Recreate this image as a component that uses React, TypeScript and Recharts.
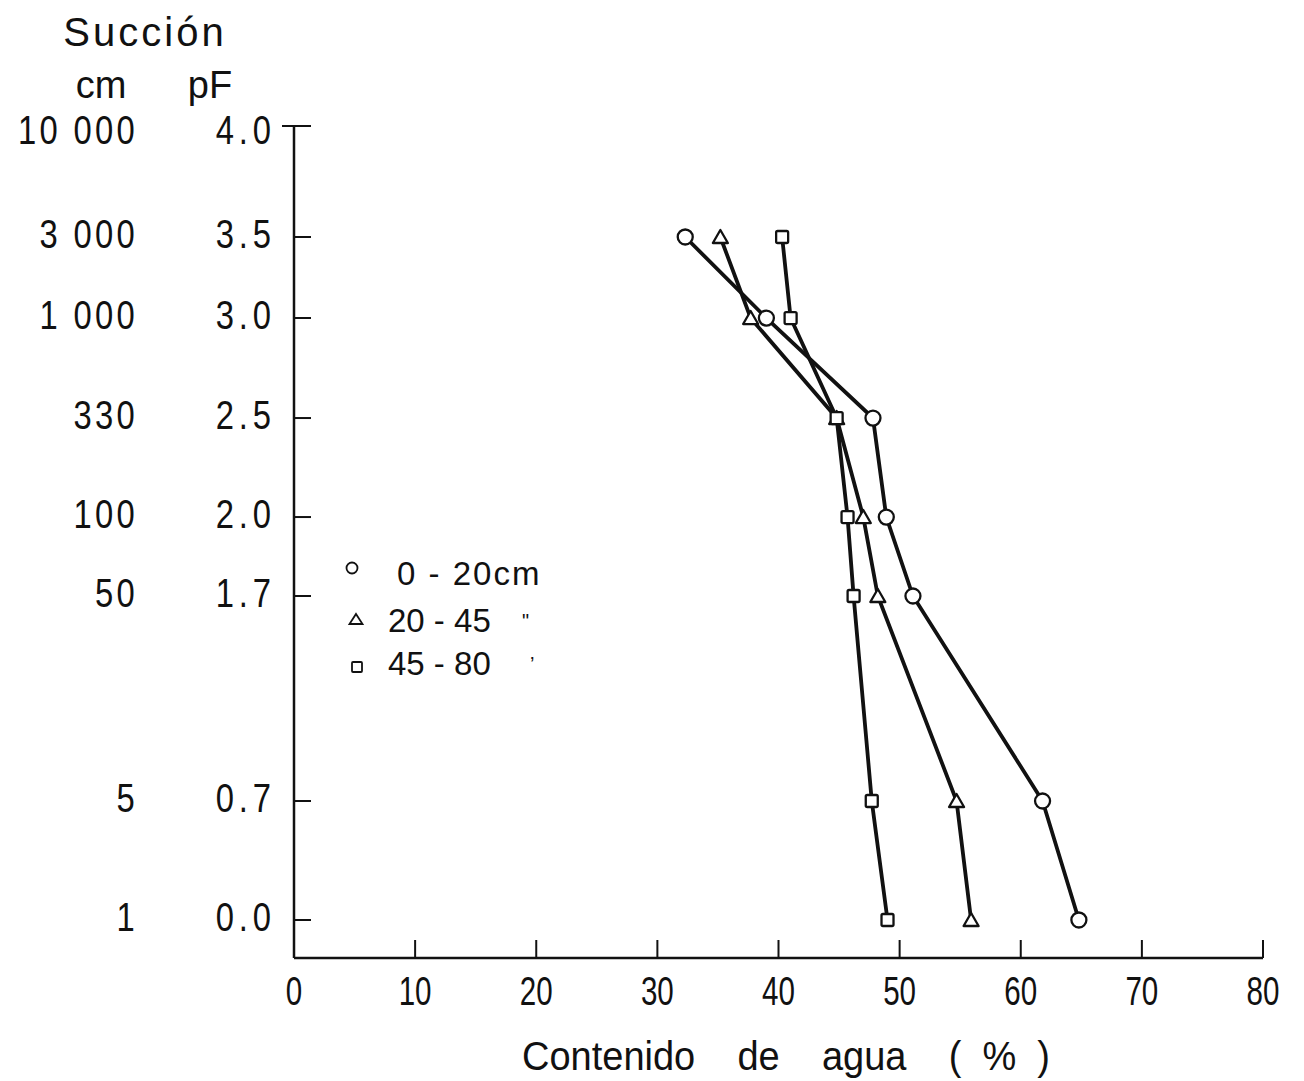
import React from 'react';
import { ScatterChart, Scatter, XAxis, YAxis, Legend } from 'recharts';

// ---------- data ----------
const seriesNames = ['0 - 20cm', '20 - 45', '45 - 80'];
const seriesDitto = ['', '"', '\u2019'];
const pFValues = [3.5, 3.0, 2.5, 2.0, 1.7, 0.7, 0.0];
const water0to20 = [32.3, 39.0, 47.8, 48.9, 51.1, 61.8, 64.8];
const water20to45 = [35.2, 37.7, 44.8, 47.0, 48.2, 54.7, 55.9];
const water45to80 = [40.3, 41.0, 44.8, 45.7, 46.2, 47.7, 49.0];

const pFTicks = [0.0, 0.7, 1.7, 2.0, 2.5, 3.0, 3.5, 4.0];
const pFTickLabels = ['0.0', '0.7', '1.7', '2.0', '2.5', '3.0', '3.5', '4.0'];
const cmTickLabels = ['1', '5', '50', '100', '330', '1 000', '3 000', '10 000'];
const xTicks = [0, 10, 20, 30, 40, 50, 60, 70, 80];

// the printed suction axis is not linear in pF: knots of pF -> fraction of axis length
const yScaleKnots = [-0.225, 0.0, 0.7, 1.7, 2.0, 2.5, 3.0, 3.5, 4.0];
const yScaleFractions = [0, 0.0457, 0.1887, 0.4351, 0.53, 0.649, 0.7692, 0.8666, 1];

const FONT = "'Liberation Sans', Arial, sans-serif";
const INK = '#111';

function piecewiseScale(knots: number[], fracs: number[]): any {
  let dom: any[] = [knots[0], knots[knots.length - 1]];
  let rng: number[] = [0, 1];
  const frac = (v: number) => {
    const n = knots.length;
    let i = 0;
    if (v >= knots[n - 1]) i = n - 2;
    else {
      while (i < n - 2 && v > knots[i + 1]) i++;
    }
    const t = (v - knots[i]) / (knots[i + 1] - knots[i]);
    return fracs[i] + t * (fracs[i + 1] - fracs[i]);
  };
  const s: any = (v: any) => rng[0] + frac(+v) * (rng[1] - rng[0]);
  s.domain = (d?: any[]) => {
    if (d === undefined) return dom.slice();
    dom = [...d];
    return s;
  };
  s.range = (r?: number[]) => {
    if (r === undefined) return rng.slice();
    rng = [...r];
    return s;
  };
  s.copy = () => piecewiseScale(knots, fracs).domain(dom).range(rng);
  s.invert = (p: number) => {
    const f = (p - rng[0]) / (rng[1] - rng[0]);
    let i = 0;
    while (i < fracs.length - 2 && f > fracs[i + 1]) i++;
    const t = (f - fracs[i]) / (fracs[i + 1] - fracs[i]);
    return knots[i] + t * (knots[i + 1] - knots[i]);
  };
  s.ticks = () => knots.slice(1);
  s.tickFormat = () => (v: any) => String(v);
  s.clamp = () => s;
  s.nice = () => s;
  return s;
}

const yScale = piecewiseScale(yScaleKnots, yScaleFractions);

const toPoints = (water: number[]) => pFValues.map((p, i) => ({ x: water[i], y: p }));
const data0to20 = toPoints(water0to20);
const data20to45 = toPoints(water20to45);
const data45to80 = toPoints(water45to80);

// ---------- markers ----------
const Circle = (props: any) => {
  const { cx, cy } = props;
  if (cx == null || cy == null) return null;
  return <circle cx={cx} cy={cy} r={7.5} fill="#fff" stroke={INK} strokeWidth={2.3} />;
};
const Triangle = (props: any) => {
  const { cx, cy } = props;
  if (cx == null || cy == null) return null;
  const w = 7.5, h = 7;
  return (
    <polygon
      points={`${cx},${cy - h} ${cx + w},${cy + h - 1} ${cx - w},${cy + h - 1}`}
      fill="#fff"
      stroke={INK}
      strokeWidth={2.3}
      strokeLinejoin="round"
    />
  );
};
const Square = (props: any) => {
  const { cx, cy } = props;
  if (cx == null || cy == null) return null;
  return <rect x={cx - 6} y={cy - 6} width={12} height={12} rx={1.5} fill="#fff" stroke={INK} strokeWidth={2.3} />;
};

// ---------- axis ticks ----------
const XTick = (props: any) => {
  const { x, y, payload } = props;
  return (
    <g>
      {payload.value !== 0 && <line x1={x} x2={x} y1={y} y2={y - 18} stroke={INK} strokeWidth={2} />}
      <text
        transform={`translate(${x},${y + 47}) scale(0.74,1)`}
        textAnchor="middle"
        fontSize={40}
        fontFamily={FONT}
        fill={INK}
      >
        {payload.value}
      </text>
    </g>
  );
};

const YTick = (props: any) => {
  const { x, y, payload } = props;
  const i = pFTicks.indexOf(payload.value);
  const isTop = i === pFTicks.length - 1;
  const dy = isTop ? 18 : 11;
  return (
    <g>
      <line x1={isTop ? x - 12 : x} x2={x + 17} y1={y} y2={y} stroke={INK} strokeWidth={2} />
      <text
        transform={`translate(${x - 18},${y + dy}) scale(0.82,1)`}
        textAnchor="end"
        fontSize={40}
        letterSpacing={6}
        fontFamily={FONT}
        fill={INK}
      >
        {pFTickLabels[i]}
      </text>
      <text
        transform={`translate(${x - 156},${y + dy}) scale(0.82,1)`}
        textAnchor="end"
        fontSize={40}
        letterSpacing={4}
        fontFamily={FONT}
        fill={INK}
        style={{ whiteSpace: 'pre' }}
      >
        {cmTickLabels[i]}
      </text>
    </g>
  );
};

const YHeader = () => (
  <g fontFamily={FONT} fill={INK}>
    <text x={145} y={46} textAnchor="middle" fontSize={40} letterSpacing={3}>
      Succión
    </text>
    <text x={101} y={98} textAnchor="middle" fontSize={38}>
      cm
    </text>
    <text x={210} y={98} textAnchor="middle" fontSize={38}>
      pF
    </text>
  </g>
);

const XTitle = () => (
  <text
    transform="translate(786,1070) scale(0.95,1)"
    textAnchor="middle"
    fontSize={40}
    fontFamily={FONT}
    fill={INK}
    style={{ whiteSpace: 'pre' }}
  >
    {'Contenido    de    agua    (  %  )'}
  </text>
);

// ---------- legend ----------
const legendMarkers = [
  (cx: number, cy: number) => <circle cx={cx} cy={cy} r={5.5} fill="#fff" stroke={INK} strokeWidth={1.8} />,
  (cx: number, cy: number) => (
    <polygon
      points={`${cx},${cy - 5} ${cx + 6.5},${cy + 5} ${cx - 6.5},${cy + 5}`}
      fill="#fff"
      stroke={INK}
      strokeWidth={1.8}
    />
  ),
  (cx: number, cy: number) => (
    <rect x={cx - 5} y={cy - 5} width={10} height={10} rx={1} fill="#fff" stroke={INK} strokeWidth={1.8} />
  ),
];

const LegendContent = () => {
  const rows = [
    { mx: 12, my: 20, tx: 57, ty: 37, dx: 0 },
    { mx: 16, my: 71, tx: 48, ty: 84, dx: 182 },
    { mx: 17, my: 119, tx: 48, ty: 127, dx: 190 },
  ];
  return (
    <svg width={230} height={140} style={{ overflow: 'visible' }}>
      {seriesNames.map((name, i) => (
        <g key={name}>
          {legendMarkers[i](rows[i].mx, rows[i].my)}
          <text
            x={rows[i].tx}
            y={rows[i].ty}
            fontSize={33}
            fontFamily={FONT}
            fill={INK}
            letterSpacing={i === 0 ? 2 : 0}
          >
            {name}
          </text>
          {seriesDitto[i] && (
            <text x={rows[i].dx} y={rows[i].ty - 4} fontSize={20} fontFamily={FONT} fill={INK}>
              {seriesDitto[i]}
            </text>
          )}
        </g>
      ))}
    </svg>
  );
};

export default function App() {
  const lineStyle = { stroke: INK, strokeWidth: 3.8 };
  return (
    <div style={{ position: 'absolute', left: 0, top: 0, width: 1304, height: 1081, background: '#fff' }}>
      <ScatterChart width={1304} height={1081} margin={{ top: 126, right: 41, bottom: 23, left: 14 }}>
        <XAxis
          type="number"
          dataKey="x"
          domain={[0, 80]}
          ticks={xTicks}
          interval={0}
          height={100}
          tickSize={0}
          tickMargin={0}
          tickLine={false}
          axisLine={{ stroke: INK, strokeWidth: 2.5 }}
          tick={<XTick />}
          label={XTitle}
        />
        <YAxis
          type="number"
          dataKey="y"
          domain={[-0.225, 4]}
          scale={yScale}
          ticks={pFTicks}
          interval={0}
          width={280}
          tickSize={0}
          tickMargin={0}
          tickLine={false}
          allowDataOverflow
          axisLine={{ stroke: INK, strokeWidth: 2.5 }}
          tick={<YTick />}
          label={YHeader}
        />
        <Legend
          layout="vertical"
          align="center"
          verticalAlign="middle"
          content={<LegendContent />}
          wrapperStyle={{ left: 340, top: 548, width: 230, height: 140 }}
        />
        <Scatter name={seriesNames[0]} data={data0to20} line={lineStyle} lineType="joint" shape={<Circle />} isAnimationActive={false} fill={INK} />
        <Scatter name={seriesNames[1]} data={data20to45} line={lineStyle} lineType="joint" shape={<Triangle />} isAnimationActive={false} fill={INK} />
        <Scatter name={seriesNames[2]} data={data45to80} line={lineStyle} lineType="joint" shape={<Square />} isAnimationActive={false} fill={INK} />
      </ScatterChart>
    </div>
  );
}
